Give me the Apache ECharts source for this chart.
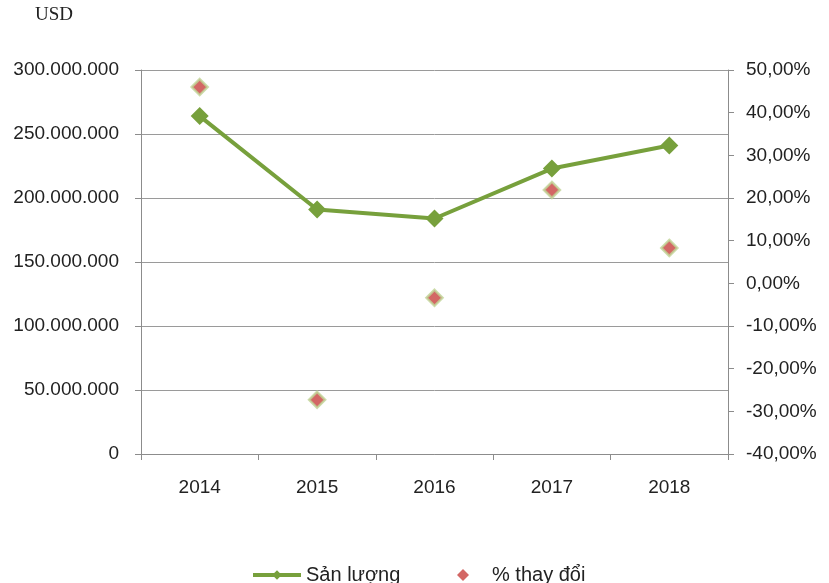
<!DOCTYPE html>
<html>
<head>
<meta charset="utf-8">
<script src="https://cdn.jsdelivr.net/npm/echarts@6/dist/echarts.min.js"></script>
<style>
  html, body { margin: 0; padding: 0; background: #fff; }
  #chart { width: 829px; height: 583px; }
</style>
</head>
<body>
<div id="chart"></div>
<script>
// data
var years = ['2014', '2015', '2016', '2017', '2018'];
var sanLuong = [264000000, 191000000, 184000000, 223000000, 241000000];
var thayDoi = [46.0, -27.3, -3.4, 21.9, 8.3];

var green = '#77A03C';
var red = '#C8413F';
var fontFam = '"Liberation Sans", Arial, sans-serif';

function dotThousands(v) {
  return String(v).replace(/\B(?=(\d{3})+(?!\d))/g, '.');
}

var chart = echarts.init(document.getElementById('chart'));

var legendText = { fontFamily: fontFam, fontSize: 20, color: '#222' };

chart.setOption({
  animation: false,
  backgroundColor: '#fff',
  grid: { left: 141, right: 101, top: 70, bottom: 129 },
  graphic: [{
    type: 'text', left: 35, top: 6,
    style: { text: 'USD', font: '19px "Liberation Serif", serif', fill: '#222' }
  }],
  legend: [{
    top: 560, left: 246,
    itemWidth: 48, itemHeight: 12,
    textStyle: legendText,
    data: [{ name: 'Sản lượng', lineStyle: { width: 4 } }]
  }, {
    top: 560, left: 452,
    itemWidth: 12, itemHeight: 12,
    textStyle: Object.assign({ padding: [0, 0, 0, 18] }, legendText),
    data: [{ name: '% thay đổi', itemStyle: { borderWidth: 0 } }]
  }],
  xAxis: {
    type: 'category',
    data: years,
    boundaryGap: true,
    axisLine: { lineStyle: { color: '#8c8c8c', width: 1 } },
    axisTick: { show: true, length: 6, lineStyle: { color: '#8c8c8c' } },
    axisLabel: { fontFamily: fontFam, fontSize: 19, color: '#222', margin: 24 }
  },
  yAxis: [{
    type: 'value',
    min: 0, max: 300000000, interval: 50000000,
    axisLine: { show: true, lineStyle: { color: '#8c8c8c' } },
    axisTick: { show: true, length: 6, lineStyle: { color: '#8c8c8c' } },
    splitLine: { lineStyle: { color: '#9a9a9a', width: 1 } },
    axisLabel: {
      fontFamily: fontFam, fontSize: 19, color: '#222', margin: 22,
      padding: [6, 0, 0, 0], formatter: dotThousands
    }
  }, {
    type: 'value',
    min: -40, max: 50, interval: 10,
    position: 'right',
    axisLine: { show: true, lineStyle: { color: '#8c8c8c' } },
    axisTick: { show: true, length: 6, lineStyle: { color: '#8c8c8c' } },
    splitLine: { show: false },
    axisLabel: {
      fontFamily: fontFam, fontSize: 19, color: '#222', margin: 18,
      padding: [6, 0, 0, 0],
      formatter: function (v) { return v.toFixed(2).replace('.', ',') + '%'; }
    }
  }],
  series: [{
    name: 'Sản lượng',
    type: 'line',
    data: sanLuong,
    symbol: 'diamond',
    symbolSize: 18,
    lineStyle: { color: green, width: 4 },
    itemStyle: { color: green }
  }, {
    name: '% thay đổi',
    type: 'scatter',
    yAxisIndex: 1,
    data: thayDoi,
    symbol: 'diamond',
    symbolSize: 16,
    itemStyle: { color: red, borderColor: '#BFD395', borderWidth: 2.5 }
  }]
});
</script>
</body>
</html>
